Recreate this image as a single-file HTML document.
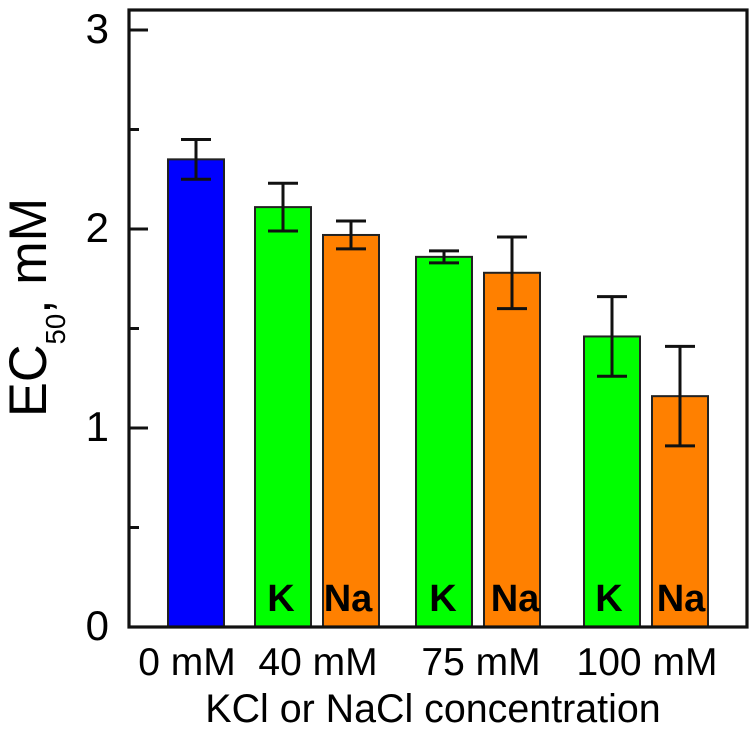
<!DOCTYPE html>
<html>
<head>
<meta charset="utf-8">
<style>
html,body{margin:0;padding:0;background:#fff;}
svg{display:block;font-family:"Liberation Sans",Arial,sans-serif;}
</style>
</head>
<body>
<svg id="chart" width="756" height="736" viewBox="0 0 756 736" xmlns="http://www.w3.org/2000/svg">
<rect x="0" y="0" width="756" height="736" fill="#ffffff"></rect>
<g id="bars"></g>
<g id="errors"></g>
<g id="ions"></g>
<g id="yaxis"></g>
<g id="xaxis"></g>
<rect x="129" y="10" width="618" height="617" fill="none" stroke="#111" stroke-width="3.2"></rect>
<text x="433" y="722" text-anchor="middle" font-size="39.4" fill="#000">KCl or NaCl concentration</text>
<text transform="translate(46,417) rotate(-90) scale(0.985,1)" font-size="53" fill="#000">EC<tspan font-size="28" dy="19">50</tspan><tspan dy="-15">,</tspan><tspan dy="-4"> mM</tspan></text>
</svg>
<script>
const barNames = ["control", "k-40", "na-40", "k-75", "na-75", "k-100", "na-100"];
const barIons = ["", "K", "Na", "K", "Na", "K", "Na"];
const barGroups = [0, 1, 1, 2, 2, 3, 3];
const barValues = [2.35, 2.11, 1.97, 1.86, 1.78, 1.46, 1.16];
const errorHigh = [2.45, 2.23, 2.04, 1.89, 1.96, 1.66, 1.41];
const errorLow = [2.25, 1.99, 1.90, 1.83, 1.60, 1.26, 0.91];
const groupLabels = ["0 mM", "40 mM", "75 mM", "100 mM"];
const yTicks = [0, 1, 2, 3];
const yMinorTicks = [0.5, 1.5, 2.5];

const NS = "http://www.w3.org/2000/svg";
function make(parent, tag, attrs, text) {
  const el = document.createElementNS(NS, tag);
  for (const k in attrs) el.setAttribute(k, attrs[k]);
  if (text !== undefined) el.textContent = text;
  document.getElementById(parent).appendChild(el);
  return el;
}
function yScale(v) { return 627 - v * 199; }
const barWidth = 56;
const withinGroupStep = 68;
const groupStarts = [196, 283, 444, 612];
function xScale(i) {
  const g = barGroups[i];
  const first = barGroups.indexOf(g);
  return groupStarts[g] + (i - first) * withinGroupStep;
}
function barColor(i) {
  if (barIons[i] === "K") return "#00ff00";
  if (barIons[i] === "Na") return "#ff8000";
  return "#0000ff";
}
function ionShift(i) {
  const shifts = [0, -2, -3, -1, 3, -3, 1];
  return shifts[i];
}

barValues.forEach(function (v, i) {
  const cx = xScale(i);
  const bar = make("bars", "rect", {
    x: cx - barWidth / 2,
    y: yScale(v),
    width: barWidth,
    height: yScale(0) - yScale(v),
    fill: barColor(i),
    stroke: "#222",
    "stroke-width": 2
  });
  
  

  const stem = make("errors", "line", {
    x1: cx, x2: cx, y1: yScale(errorHigh[i]), y2: yScale(errorLow[i]),
    stroke: "#111", "stroke-width": 3
  });
  
  

  const capTop = make("errors", "line", {
    x1: cx - 15, x2: cx + 15, y1: yScale(errorHigh[i]), y2: yScale(errorHigh[i]),
    stroke: "#111", "stroke-width": 3
  });
  
  

  const capLow = make("errors", "line", {
    x1: cx - 15, x2: cx + 15, y1: yScale(errorLow[i]), y2: yScale(errorLow[i]),
    stroke: "#111", "stroke-width": 3
  });
  
  

  if (barIons[i]) {
    const ion = make("ions", "text", {
      x: cx + ionShift(i), y: 611, "text-anchor": "middle",
      "font-size": 38, "font-weight": "bold", fill: "#000"
    }, barIons[i]);
    
    
  }
});

yTicks.forEach(function (t) {
  const tick = make("yaxis", "line", {
    x1: 129, x2: 148, y1: yScale(t), y2: yScale(t),
    stroke: "#111", "stroke-width": 3
  });
  
  
  const label = make("yaxis", "text", {
    x: 109, y: yScale(t) + 13, "text-anchor": "end",
    "font-size": 42, fill: "#000"
  }, String(t));
  
  
});
yMinorTicks.forEach(function (t) {
  const tick = make("yaxis", "line", {
    x1: 129, x2: 139, y1: yScale(t), y2: yScale(t),
    stroke: "#111", "stroke-width": 3
  });
  
  
});

const labelCenters = [187, 318, 481, 647];
groupLabels.forEach(function (t, i) {
  const label = make("xaxis", "text", {
    x: labelCenters[i], y: 675, "text-anchor": "middle",
    "font-size": 39, fill: "#000"
  }, t);
  
  
});
</script>
</body>
</html>
